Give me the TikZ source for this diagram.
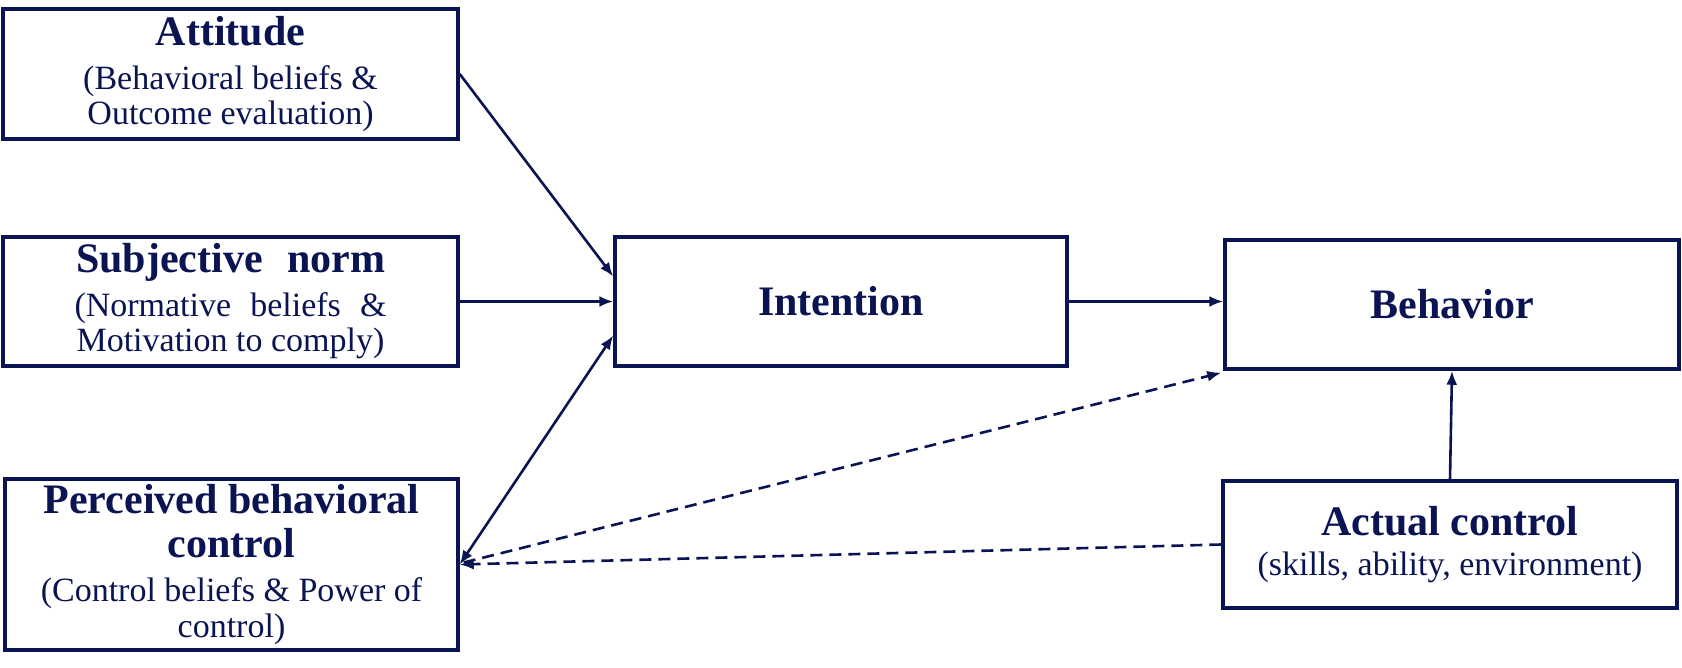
\documentclass[tikz,border=0pt]{standalone}
\usepackage{fontspec}
\setmainfont{Liberation Serif}
\usepackage{tikz}
\usetikzlibrary{arrows.meta,positioning,calc}
\definecolor{navy}{RGB}{10,20,82}
\newcommand{\titel}{\fontsize{42}{45}\selectfont\bfseries}
\newcommand{\klein}{\fontsize{34}{35}\selectfont}

\begin{document}
\begin{tikzpicture}[x=1pt,y=-1pt,
  spitze/.tip={Latex[length=14pt,width=11pt]},
  kasten/.style={draw=navy,line width=3.5pt,text=navy,align=center,font=\klein,inner sep=0pt},
  pfeil/.style={navy,line width=2.6pt,-spitze},
  gestrichelt/.style={pfeil,dash pattern=on 12pt off 7pt}]
%Rahmen in Pixeln (1682 x 668), y zeigt nach unten
\useasboundingbox (0,0) rectangle (1682,668);
%Kaesten
\node[kasten,minimum width=455pt,minimum height=130pt] (att) at (230.5,74) {{\titel Attitude}\\[9pt](Behavioral beliefs \&\\Outcome evaluation)};
\node[kasten,minimum width=455pt,minimum height=129pt] (norm) at (230.5,301.5) {{\titel\makebox[309pt][s]{Subjective norm}}\\[9pt]\makebox[312pt][s]{(Normative beliefs \&}\\Motivation to comply)};
\node[kasten,minimum width=453pt,minimum height=171pt] (pbc) at (231.5,564.5) {{\titel Perceived behavioral}\\[9pt]{\titel control}\\[9pt](Control beliefs \& Power of\\[1pt]control)};
\node[kasten,minimum width=452pt,minimum height=129pt] (int) at (841,301.5) {\titel Intention};
\node[kasten,minimum width=454pt,minimum height=129pt] (beh) at (1452,304.5) {\titel Behavior};
\node[kasten,minimum width=454pt,minimum height=127pt] (akt) at (1450,544.5) {{\titel Actual control}\\[5pt](skills, ability, environment)};
%Pfeile
\draw[pfeil] (att.east) -- ([yshift=25pt]int.west);
\draw[pfeil] (norm.east) -- (int.west);
\draw[pfeil,spitze-spitze] (pbc.east) -- ([yshift=-34pt]int.west);
\draw[pfeil] (int.east) -- (int.east -| beh.west);
\draw[pfeil] (akt.north) -- (beh.south);
\draw[gestrichelt] ([xshift=4pt,yshift=2pt]pbc.east) -- ([xshift=-2pt,yshift=-2pt]beh.south west);
\draw[gestrichelt] (akt.west) -- (pbc.east);
\end{tikzpicture}
\end{document}
